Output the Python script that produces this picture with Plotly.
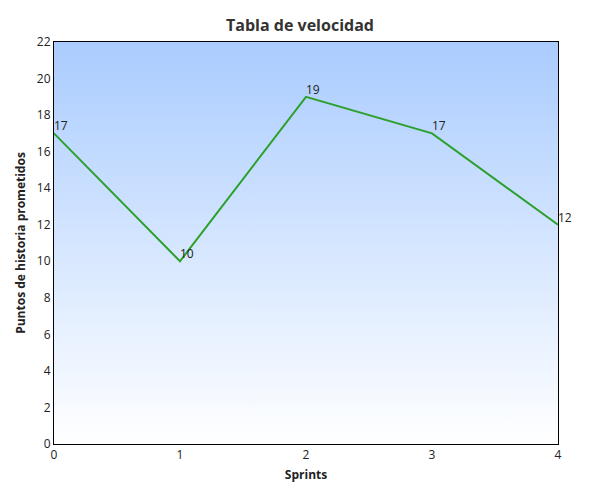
import plotly.graph_objects as go

sprints = [0, 1, 2, 3, 4]
puntos = [17, 10, 19, 17, 12]
y_ticks = list(range(0, 23, 2))

fig = go.Figure()

# background gradient for the plot area
fig.add_trace(go.Scatter(
    x=[0, 4, 4, 0, 0], y=[0, 0, 22, 22, 0],
    fill='toself', mode='none', hoverinfo='skip', showlegend=False,
    fillgradient=dict(type='vertical',
                      colorscale=[[0, '#ffffff'], [1, '#aaccff']]),
))

fig.add_trace(go.Scatter(
    x=sprints, y=puntos, mode='lines+text',
    text=[str(v) for v in puntos], textposition='top right',
    textfont=dict(size=12, color='#222'),
    line=dict(color='#2ca02c', width=2), showlegend=False,
))

fig.update_layout(
    width=584, height=484,
    margin=dict(l=44, r=34, t=34, b=44),
    paper_bgcolor='white', plot_bgcolor='white',
    font=dict(family='Open Sans', size=12, color='#222'),
    title=dict(text='<b>Tabla de velocidad</b>', x=0.5, y=0.975,
               xanchor='center', font=dict(size=16, color='#333')),
    xaxis=dict(range=[0, 4], tickvals=sprints, showgrid=True,
               gridcolor='#cccccc', zeroline=False, showline=True,
               linecolor='black', mirror=True, ticks='', layer='above traces',
               title=dict(text='<b>Sprints</b>', standoff=8, font=dict(size=12))),
    yaxis=dict(range=[0, 22], tickvals=y_ticks, showgrid=True,
               gridcolor='#cccccc', zeroline=False, showline=True,
               linecolor='black', mirror=True, ticks='', layer='above traces',
               title=dict(text='<b>Puntos de historia prometidos</b>', standoff=8,
                          font=dict(size=12))),
)
fig.update_traces(cliponaxis=False, selector=dict(mode='lines+text'))

fig.write_html("out.html")
